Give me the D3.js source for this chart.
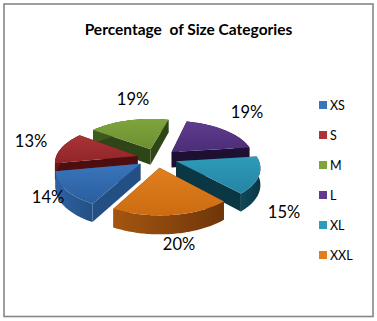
<!DOCTYPE html>
<html>
<head>
<meta charset="utf-8">
<script src="https://cdn.jsdelivr.net/npm/d3@7"></script>
<style>
  html, body { margin: 0; padding: 0; background: #fff; }
  svg { display: block; }
  text { font-family: Lato, "Open Sans", sans-serif; fill: #000; }
</style>
</head>
<body>
<div id="chart"></div>
<script>
var categories = ['XS', 'S', 'M', 'L', 'XL', 'XXL'];
var percents = [14, 13, 19, 19, 15, 20];
var topColors = ['#3a74bb', '#a93336', '#7fa53d', '#5f3c8e', '#2f9bb9', '#e17f1e'];
var topEdges = ['#2a5f9e', '#8f2528', '#6b8f30', '#4b2d78', '#2385a3', '#cc6c12'];
var wallColors = ['#2f62a3', '#6e1517', '#3f5c1f', '#2a1744', '#10495b', '#a4550f'];
var wallDark = ['#234f85', '#4e0d0f', '#2e4617', '#1e1033', '#0b3644', '#6f360a'];
// label spots
var labelX = [48, 31, 133, 247, 284, 179];
var labelY = [203, 147, 105, 118, 218, 250];

var width = 377, height = 321;
var cx = 157, cy = 158, radius = 82, squash = 0.475, depth = 16, explode = 20, persp = 0.15;

var svg = d3.select('#chart').append('svg')
    .attr('width', width)
    .attr('height', height);

var defs = svg.append('defs');

svg.append('rect')
    .attr('x', 4)
    .attr('y', 4)
    .attr('width', 369)
    .attr('height', 312.5)
    .attr('fill', '#fff')
    .attr('stroke', '#868686')
    .attr('stroke-width', 1.6);

svg.append('text')
    .attr('x', 188.5)
    .attr('y', 35)
    .attr('text-anchor', 'middle')
    .attr('font-size', 15.5)
    .attr('font-weight', 700)
    .attr('xml:space', 'preserve')
    .text('Percentage  of Size Categories');

var pie = d3.pie()
    .sort(null)
    .startAngle(209 * Math.PI / 180)
    .endAngle((209 + 360) * Math.PI / 180);

var arcs = pie(percents);
var line = d3.line();

// ground plane to screen: u to the right, v towards the viewer, nearer is bigger
function project(u, v, z) {
  var f = 1 + persp * v / radius;
  return [cx + u * f, cy + v * squash * f + (z || 0) * f];
}

var slices = arcs.map(function (d, i) {
  var mid = (d.startAngle + d.endAngle) / 2;
  var u0 = explode * Math.sin(mid), v0 = -explode * Math.cos(mid);
  var angles = d3.range(d.startAngle, d.endAngle, 0.02).concat([d.endAngle]);
  return {
    i: i,
    apex: [u0, v0],
    angles: angles,
    rim: function (a, z) {
      return project(u0 + radius * Math.sin(a), v0 - radius * Math.cos(a), z);
    }
  };
});

// gradients for the shaded look
slices.forEach(function (s) {
  var g = defs.append('linearGradient')
      .attr('id', 'top' + s.i)
      .attr('x1', 0).attr('y1', 0).attr('x2', 0).attr('y2', 1);
  g.append('stop').attr('offset', '0%').attr('stop-color', topColors[s.i]);
  g.append('stop').attr('offset', '100%').attr('stop-color', topEdges[s.i]);

  var w = defs.append('linearGradient')
      .attr('id', 'wall' + s.i)
      .attr('x1', 0).attr('y1', 0).attr('x2', 1).attr('y2', 0);
  w.append('stop').attr('offset', '0%').attr('stop-color', wallColors[s.i]);
  w.append('stop').attr('offset', '100%').attr('stop-color', wallDark[s.i]);
});

// back slices first so the front ones cover them
var order = slices.slice().sort(function (a, b) { return a.apex[1] - b.apex[1]; });

var slice = svg.selectAll('.slice')
    .data(order)
  .enter().append('g')
    .attr('class', 'slice');

// the two cut faces
slice.each(function (d) {
  var g = d3.select(this);
  [d.angles[0], d.angles[d.angles.length - 1]].forEach(function (a) {
    g.append('path')
      .attr('fill', wallDark[d.i])
      .attr('d', line([
        project(d.apex[0], d.apex[1]),
        d.rim(a),
        d.rim(a, depth),
        project(d.apex[0], d.apex[1], depth)
      ]) + 'Z');
  });
});

// outer wall, traced along the rim
slice.append('path')
    .attr('fill', function (d) { return 'url(#wall' + d.i + ')'; })
    .attr('d', function (d) {
      var rim = d.angles.map(function (a) { return d.rim(a); });
      var low = d.angles.slice().reverse().map(function (a) { return d.rim(a, depth); });
      return line(rim.concat(low)) + 'Z';
    });

slice.append('path')
    .attr('fill', function (d) { return 'url(#top' + d.i + ')'; })
    .attr('d', function (d) {
      var rim = d.angles.map(function (a) { return d.rim(a); });
      return line([project(d.apex[0], d.apex[1])].concat(rim)) + 'Z';
    });

svg.selectAll('.pct')
    .data(percents)
  .enter().append('text')
    .attr('class', 'pct')
    .attr('x', function (d, i) { return labelX[i]; })
    .attr('y', function (d, i) { return labelY[i]; })
    .attr('text-anchor', 'middle')
    .attr('font-size', 16.5)
    .text(function (d) { return d + '%'; });

var legendY = d3.scalePoint()
    .domain(categories)
    .range([105, 255]);

var legend = svg.selectAll('.legend')
    .data(categories)
  .enter().append('g')
    .attr('class', 'legend')
    .attr('transform', function (d) { return 'translate(319,' + legendY(d) + ')'; });

legend.append('rect')
    .attr('y', -4)
    .attr('width', 8)
    .attr('height', 8)
    .attr('fill', function (d, i) { return topColors[i]; });

legend.append('text')
    .attr('x', 11)
    .attr('y', 4.5)
    .attr('font-size', 12.5)
    .text(function (d) { return d; });
</script>
</body>
</html>
